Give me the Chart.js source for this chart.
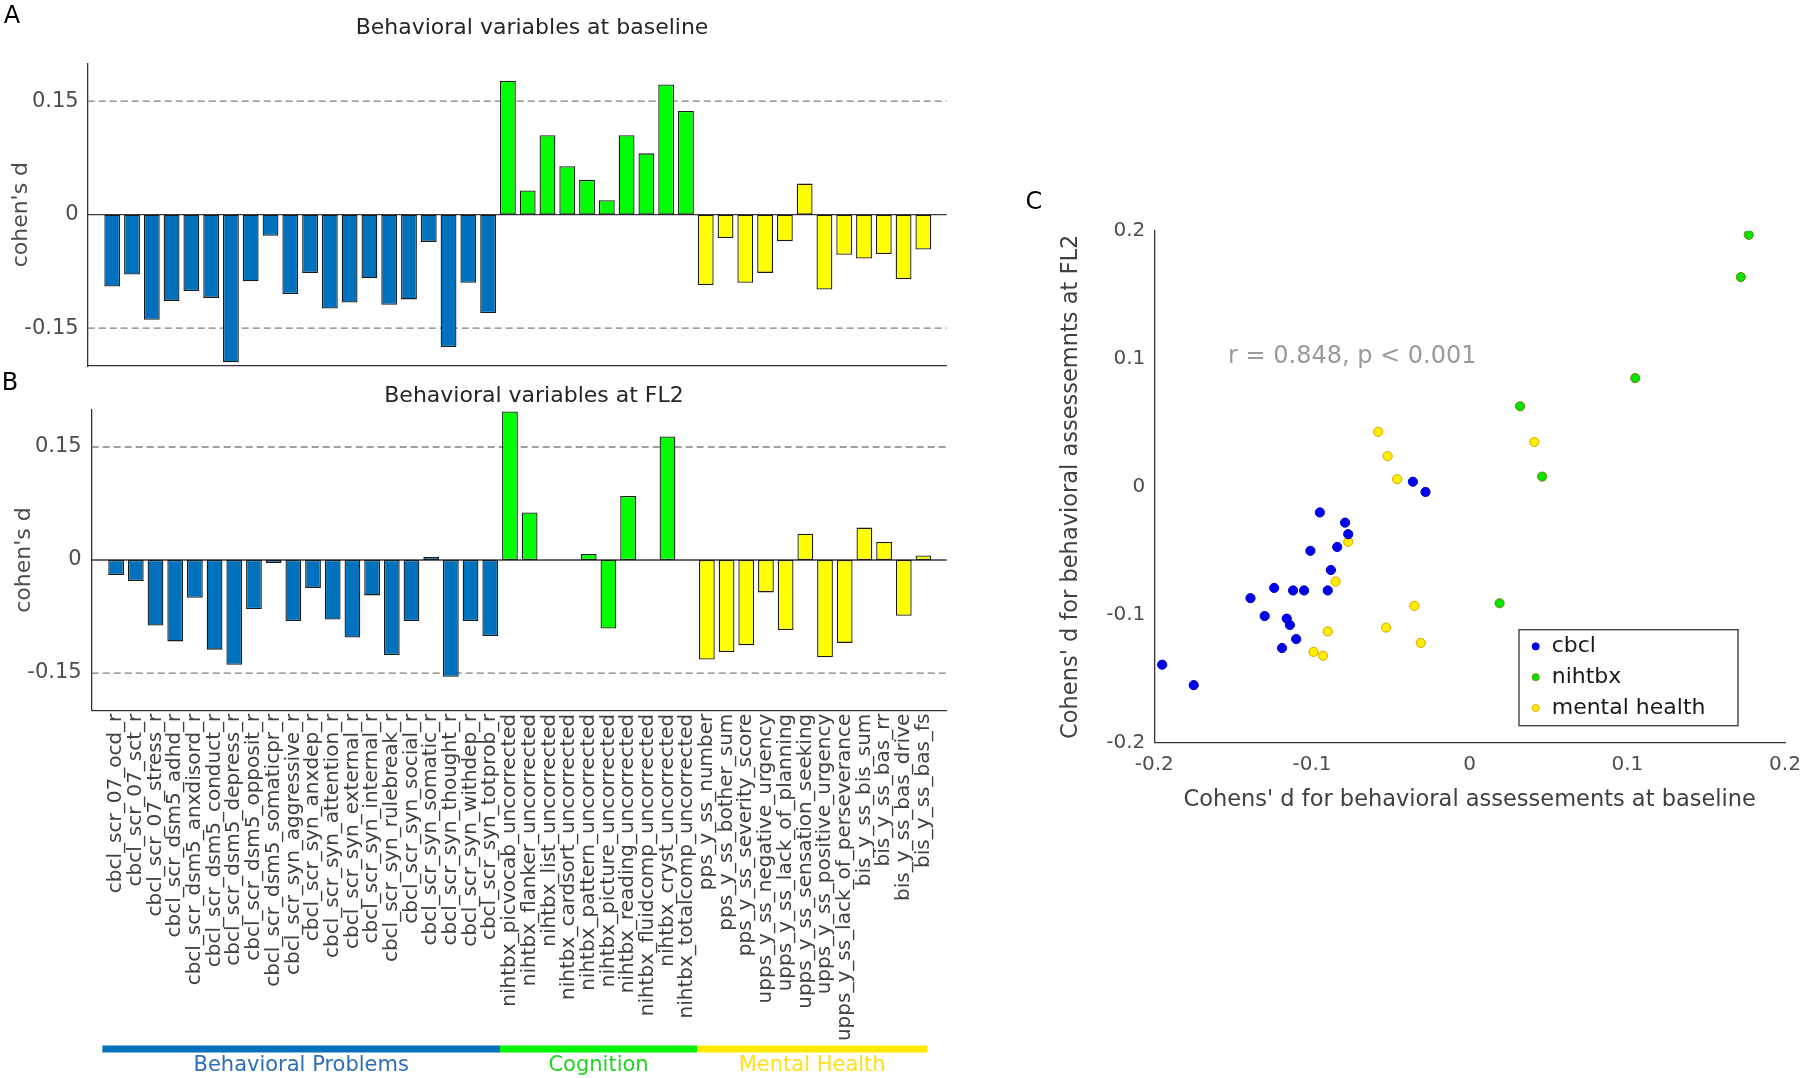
<!DOCTYPE html>
<html>
<head>
<meta charset="utf-8">
<script src="https://cdn.jsdelivr.net/npm/chart.js@4.4.1/dist/chart.umd.min.js"></script>
<style>
  html, body { margin: 0; padding: 0; background: #fff; }
  #page { position: relative; width: 1800px; height: 1078px; overflow: hidden; font-family: 'DejaVu Sans', sans-serif; }
  canvas { position: absolute; }
  .txt { position: absolute; transform: translate(-50%, -50%); white-space: nowrap; line-height: 1; }
</style>
</head>
<body>
<div id="page">
  <canvas id="barBase" width="1000" height="372" style="left:0;top:0"></canvas>
  <canvas id="barFL2" width="1000" height="706" style="left:0;top:372px"></canvas>
  <canvas id="scatter" width="800" height="830" style="left:1000px;top:0"></canvas>

  <div class="txt" style="left:12px;top:15px;font-size:24px;color:#000">A</div>
  <div class="txt" style="left:10px;top:382px;font-size:24px;color:#000">B</div>
  <div class="txt" style="left:1034px;top:201px;font-size:24px;color:#000">C</div>
  <div class="txt" style="left:532px;top:27px;font-size:22px;color:#262626">Behavioral variables at baseline</div>
  <div class="txt" style="left:534px;top:395px;font-size:22px;color:#262626">Behavioral variables at FL2</div>
  <div class="txt" style="left:1228px;top:355px;font-size:24px;color:#9a9a9a;transform:translate(0,-50%)">r = 0.848, p &lt; 0.001</div>
</div>

<script>
// behavioural variables, in plotting order
const variableNames = [
  'cbcl_scr_07_ocd_r', 'cbcl_scr_07_sct_r', 'cbcl_scr_07_stress_r', 'cbcl_scr_dsm5_adhd_r',
  'cbcl_scr_dsm5_anxdisord_r', 'cbcl_scr_dsm5_conduct_r', 'cbcl_scr_dsm5_depress_r', 'cbcl_scr_dsm5_opposit_r',
  'cbcl_scr_dsm5_somaticpr_r', 'cbcl_scr_syn_aggressive_r', 'cbcl_scr_syn_anxdep_r', 'cbcl_scr_syn_attention_r',
  'cbcl_scr_syn_external_r', 'cbcl_scr_syn_internal_r', 'cbcl_scr_syn_rulebreak_r', 'cbcl_scr_syn_social_r',
  'cbcl_scr_syn_somatic_r', 'cbcl_scr_syn_thought_r', 'cbcl_scr_syn_withdep_r', 'cbcl_scr_syn_totprob_r',
  'nihtbx_picvocab_uncorrected', 'nihtbx_flanker_uncorrected', 'nihtbx_list_uncorrected', 'nihtbx_cardsort_uncorrected',
  'nihtbx_pattern_uncorrected', 'nihtbx_picture_uncorrected', 'nihtbx_reading_uncorrected', 'nihtbx_fluidcomp_uncorrected',
  'nihtbx_cryst_uncorrected', 'nihtbx_totalcomp_uncorrected',
  'pps_y_ss_number', 'pps_y_ss_bother_sum', 'pps_y_ss_severity_score', 'upps_y_ss_negative_urgency',
  'upps_y_ss_lack_of_planning', 'upps_y_ss_sensation_seeking', 'upps_y_ss_positive_urgency', 'upps_y_ss_lack_of_perseverance',
  'bis_y_ss_bis_sum', 'bis_y_ss_bas_rr', 'bis_y_ss_bas_drive', 'bis_y_ss_bas_fs'
];

// cohen's d at baseline
const baselineD = [
  -0.095, -0.079, -0.139, -0.114, -0.101, -0.110, -0.195, -0.088, -0.028, -0.105,
  -0.077, -0.124, -0.116, -0.084, -0.119, -0.112, -0.036, -0.175, -0.090, -0.130,
  0.177, 0.032, 0.105, 0.064, 0.046, 0.019, 0.105, 0.081, 0.172, 0.137,
  -0.093, -0.031, -0.090, -0.077, -0.035, 0.041, -0.099, -0.053, -0.058, -0.052, -0.085, -0.046
];

// cohen's d at FL2 (null = not available)
const fl2D = [
  -0.020, -0.028, -0.087, -0.108, -0.050, -0.119, -0.139, -0.065, -0.004, -0.081,
  -0.037, -0.079, -0.103, -0.047, -0.126, -0.081, 0.004, -0.155, -0.081, -0.101,
  0.197, 0.063, null, null, 0.008, -0.091, 0.085, null, 0.164, null,
  -0.132, -0.122, -0.113, -0.043, -0.093, 0.035, -0.129, -0.110, 0.043, 0.024, -0.074, 0.006
];

const groupNames = ['cbcl', 'nihtbx', 'mental health'];
const groupTitles = ['Behavioral Problems', 'Cognition', 'Mental Health'];
const refLevels = [0.15, -0.15];
const barTicks = [-0.15, 0, 0.15];
const scatterTicks = [-0.2, -0.1, 0, 0.1, 0.2];

const barFill = ['#0072BD', '#00FF00', '#FFFF00'];
const bandFill = ['#0072BD', '#00F500', '#FFEA00'];
const bandText = ['#2E6DB8', '#1ED61E', '#FFE01A'];
const dotFill = ['#0000F0', '#00E600', '#FFEE00'];
const dotEdge = ['#0000C0', '#7C7C14', '#D9A400'];

const groupIdx = variableNames.map(n => n.startsWith('cbcl') ? 0 : n.startsWith('nihtbx') ? 1 : 2);

Chart.defaults.font.family = "'DejaVu Sans', sans-serif";

// dashed +-0.15 lines and solid zero line
const refLines = {
  id: 'refLines',
  beforeDatasetsDraw(chart) {
    const { ctx, chartArea: a, scales: { y } } = chart;
    ctx.save();
    ctx.lineWidth = 1.3;
    ctx.strokeStyle = '#808080';
    ctx.setLineDash([7, 4]);
    refLevels.forEach(v => {
      const py = y.getPixelForValue(v);
      ctx.beginPath(); ctx.moveTo(a.left, py); ctx.lineTo(a.right, py); ctx.stroke();
    });
    ctx.setLineDash([]);
    ctx.strokeStyle = '#3a3a3a';
    const p0 = y.getPixelForValue(0);
    ctx.beginPath(); ctx.moveTo(a.left, p0); ctx.lineTo(a.right, p0); ctx.stroke();
    ctx.restore();
  }
};

// coloured group band under the FL2 names
const groupBand = {
  id: 'groupBand',
  afterDraw(chart) {
    const { ctx, scales: { x } } = chart;
    const bandY = chart.height - 29, textY = chart.height - 12;
    ctx.save();
    groupTitles.forEach((title, g) => {
      const first = groupIdx.indexOf(g) + 1;
      const last = groupIdx.lastIndexOf(g) + 1;
      const x0 = x.getPixelForValue(g === 0 ? first - 0.7 : first - 0.5);
      const x1 = x.getPixelForValue(g === groupTitles.length - 1 ? last + 0.2 : last + 0.5);
      ctx.fillStyle = bandFill[g];
      ctx.fillRect(x0, bandY - 3.5, x1 - x0, 7);
      ctx.fillStyle = bandText[g];
      ctx.font = "21px 'DejaVu Sans'";
      ctx.textAlign = 'center';
      ctx.textBaseline = 'middle';
      ctx.fillText(title, (x0 + x1) / 2, textY);
    });
    ctx.restore();
  }
};

function barChart(id, values, o) {
  return new Chart(document.getElementById(id), {
    type: 'bar',
    data: {
      datasets: [{
        data: values.map((v, i) => ({ x: i + 1, y: v })),
        backgroundColor: groupIdx.map(g => barFill[g]),
        borderColor: '#1a1a1a',
        borderWidth: 1.3,
        borderSkipped: false,
        categoryPercentage: 1,
        barPercentage: 0.8
      }]
    },
    options: {
      responsive: false,
      animation: false,
      events: [],
      layout: { padding: o.padding },
      plugins: { legend: { display: false }, tooltip: { enabled: false } },
      scales: {
        x: {
          type: 'linear', min: -0.24, max: 43.18, offset: false,
          grid: { display: false, drawTicks: false },
          border: { display: true, color: '#333', width: 1.3 },
          afterBuildTicks: s => { s.ticks = variableNames.map((_, i) => ({ value: i + 1 })); },
          afterFit: s => { s.height = o.xHeight; s.paddingLeft = 0; s.paddingRight = 0; },
          ticks: {
            display: o.showNames, autoSkip: false, maxRotation: 90, minRotation: 90,
            padding: 3, font: { size: 20 }, color: '#404040',
            callback: v => variableNames[v - 1]
          }
        },
        y: {
          min: -0.2, max: 0.2,
          grid: { display: false, drawTicks: false },
          border: { display: true, color: '#333', width: 1.3 },
          afterBuildTicks: s => { s.ticks = barTicks.map(v => ({ value: v })); },
          afterFit: s => { s.width = o.yWidth; s.paddingTop = 0; s.paddingBottom = 0; },
          ticks: { padding: o.tickPad, font: { size: 21 }, color: '#4d4d4d', callback: v => v === 0 ? '0' : String(v) },
          title: { display: true, text: "cohen's d", font: { size: 22 }, color: '#4d4d4d', padding: { top: o.titlePad, bottom: 0 } }
        }
      }
    },
    plugins: o.plugins
  });
}

barChart('barBase', baselineD, {
  padding: { left: 0, right: 53.3, top: 63.3, bottom: 6 },
  xHeight: 0, yWidth: 87.7, tickPad: 9, titlePad: 7.8, showNames: false,
  plugins: [refLines]
});

barChart('barFL2', fl2D, {
  padding: { left: 0, right: 53.3, top: 37.3, bottom: 0 },
  xHeight: 367.3, yWidth: 91.7, tickPad: 10, titlePad: 10.8, showNames: true,
  plugins: [refLines, groupBand]
});

// boxed legend inside the plot, lower right
const boxLegend = {
  id: 'boxLegend',
  afterDraw(chart) {
    const { ctx, chartArea: a } = chart;
    const w = 219, h = 96;
    const x0 = a.right - 47 - w, y0 = a.bottom - 17 - h;
    ctx.save();
    ctx.fillStyle = '#fff';
    ctx.fillRect(x0, y0, w, h);
    ctx.strokeStyle = '#333';
    ctx.lineWidth = 1.3;
    ctx.strokeRect(x0, y0, w, h);
    ctx.font = "22px 'DejaVu Sans'";
    ctx.textAlign = 'left';
    ctx.textBaseline = 'middle';
    chart.data.datasets.forEach((ds, i) => {
      const cy = y0 + 16.7 + i * 30.8;
      ctx.beginPath();
      ctx.arc(x0 + 16.7, cy, 3.6, 0, Math.PI * 2);
      ctx.fillStyle = ds.backgroundColor;
      ctx.fill();
      ctx.lineWidth = 0.8;
      ctx.strokeStyle = ds.borderColor;
      ctx.stroke();
      ctx.fillStyle = '#1a1a1a';
      ctx.fillText(ds.label, x0 + 32.7, cy);
    });
    ctx.restore();
  }
};

const scatterSets = groupNames.map((name, g) => ({
  label: name,
  data: variableNames
    .map((_, i) => i)
    .filter(i => groupIdx[i] === g && fl2D[i] !== null)
    .map(i => ({ x: baselineD[i], y: fl2D[i] })),
  backgroundColor: dotFill[g],
  borderColor: dotEdge[g],
  borderWidth: 1,
  pointRadius: 4.6
}));

new Chart(document.getElementById('scatter'), {
  type: 'scatter',
  data: { datasets: scatterSets },
  options: {
    responsive: false,
    animation: false,
    events: [],
    layout: { padding: { left: 0, right: 15, top: 231, bottom: 0 } },
    plugins: { legend: { display: false }, tooltip: { enabled: false } },
    scales: {
      x: {
        type: 'linear', min: -0.2, max: 0.2,
        grid: { display: false, drawTicks: false },
        border: { display: true, color: '#333', width: 1.3 },
        afterBuildTicks: s => { s.ticks = scatterTicks.map(v => ({ value: v })); },
        afterFit: s => { s.height = 87.3; s.paddingLeft = 0; s.paddingRight = 0; },
        ticks: { padding: 10, font: { size: 20 }, color: '#4d4d4d', callback: v => v === 0 ? '0' : String(v) },
        title: { display: true, text: "Cohens' d for behavioral assessements at baseline", font: { size: 22.5 }, color: '#404040', padding: { top: 0, bottom: 16.5 } }
      },
      y: {
        type: 'linear', min: -0.2, max: 0.2,
        grid: { display: false, drawTicks: false },
        border: { display: true, color: '#333', width: 1.3 },
        afterBuildTicks: s => { s.ticks = scatterTicks.map(v => ({ value: v })); },
        afterFit: s => { s.width = 154.3; s.paddingTop = 0; s.paddingBottom = 0; },
        ticks: { padding: 9, font: { size: 20 }, color: '#4d4d4d', callback: v => v === 0 ? '0' : String(v) },
        title: { display: true, text: "Cohens' d for behavioral assessemnts at FL2", font: { size: 22.5 }, color: '#404040', padding: { top: 57.5, bottom: 0 } }
      }
    }
  },
  plugins: [boxLegend]
});
</script>
</body>
</html>
